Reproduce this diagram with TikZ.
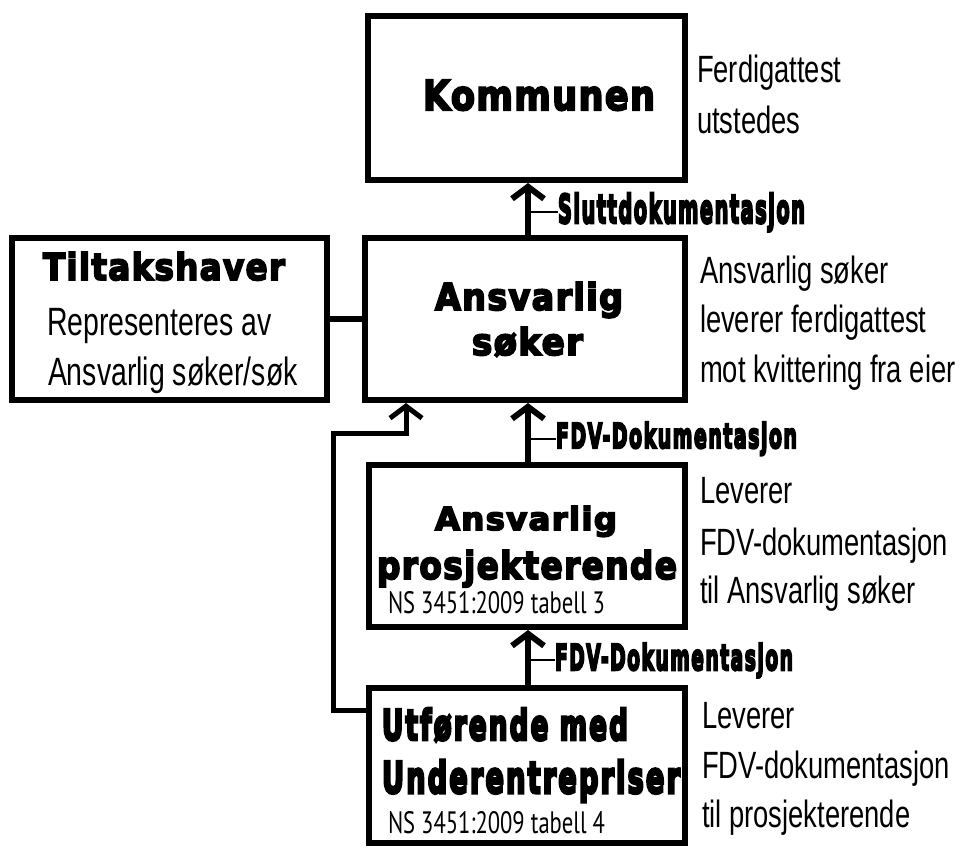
\documentclass[tikz,border=0pt]{standalone}
\usepackage{fontspec}
\usepackage{graphicx}
\usetikzlibrary{arrows.meta}
\setmainfont{Liberation Sans}
\newfontfamily\sidefont{Liberation Sans}[FakeStretch=0.72]
\newfontfamily\heavyfont{DejaVu Sans Bold}[FakeBold=5, LetterSpace=4]
\newfontfamily\impactfont{DejaVu Sans Bold}[FakeBold=7, LetterSpace=8]
\newfontfamily\nsfont{PT Sans}
% text fitted to a given width and height (in pt)
\newcommand\fitheavy[3]{\resizebox{#1pt}{#2pt}{\heavyfont #3}}
\newcommand\fitimpact[3]{\resizebox{#1pt}{#2pt}{\impactfont #3}}
\newcommand\fitns[3]{\resizebox{#1pt}{#2pt}{\nsfont #3}}
\tikzset{
  box/.style={draw, line width=6pt, inner sep=0pt, rectangle},
  txt/.style={inner sep=0pt, outer sep=0pt, anchor=base west},
  side/.style={txt, font=\sidefont\fontsize{38}{46}\selectfont},
  owner/.style={txt, font=\sidefont\fontsize{39.5}{46}\selectfont},
  flow/.style={line width=6pt, -{Straight Barb[length=12pt,width=32pt]}},
  elbow/.style={line width=5pt, -{Straight Barb[length=12pt,width=32pt]}},
  leader/.style={line width=2pt},
  tie/.style={line width=6pt}
}
\begin{document}
\begin{tikzpicture}[x=1pt,y=-1pt]
\useasboundingbox (0,0) rectangle (962,849);

% boxes
\node[box, minimum width=317pt, minimum height=164pt] (kom)  at (526.5,98)  {};
\node[box, minimum width=320pt, minimum height=162pt] (sok)  at (525,319)   {};
\node[box, minimum width=315pt, minimum height=162pt] (tilt) at (169.5,319) {};
\node[box, minimum width=316pt, minimum height=162pt] (pro)  at (527,546)   {};
\node[box, minimum width=316pt, minimum height=155pt] (utf)  at (527,765.5) {};

% box titles
\node[txt] (kom-t)   at (423,110) {\fitheavy{232}{30}{Kommunen}};
\node[txt] (sok-t1)  at (435,310) {\fitheavy{188}{28}{Ansvarlig}};
\node[txt] (sok-t2)  at (472,355) {\fitheavy{111}{28}{søker}};
\node[txt] (tilt-t)  at (43,280)  {\fitheavy{242}{28}{Tiltakshaver}};
\node[owner] (tilt-s1) at (47,335) {Representeres av};
\node[owner] (tilt-s2) at (48,385) {Ansvarlig søker/søk};
\node[txt] (pro-t1)  at (435,530) {\fitheavy{182}{24}{Ansvarlig}};
\node[txt] (pro-t2)  at (377,579) {\fitheavy{300}{29}{prosjekterende}};
\node[txt] (pro-ns)  at (388,613) {\fitns{217}{22}{NS 3451:2009 tabell 3}};
\node[txt] (utf-t1)  at (382,740) {\fitimpact{246}{32}{Utførende med}};
\node[txt] (utf-t2)  at (382,793) {\fitimpact{298}{33}{Underentrepriser}};
\node[txt] (utf-ns)  at (388,833) {\fitns{217}{22}{NS 3451:2009 tabell 4}};

% notes to the right of the boxes
\node[side] (kom-n1) at (697,82)  {Ferdigattest};
\node[side] (kom-n2) at (697,133) {utstedes};
\node[side] (sok-n1) at (700,283) {Ansvarlig søker};
\node[side] (sok-n2) at (700,332) {leverer ferdigattest};
\node[side] (sok-n3) at (700,382) {mot kvittering fra eier};
\node[side] (pro-n1) at (700,503) {Leverer};
\node[side] (pro-n2) at (700,555) {FDV-dokumentasjon};
\node[side] (pro-n3) at (700,603) {til Ansvarlig søker};
\node[side] (utf-n1) at (702,728) {Leverer};
\node[side] (utf-n2) at (702,778) {FDV-dokumentasjon};
\node[side] (utf-n3) at (702,827) {til prosjekterende};

% flow labels
\node[txt] (lab1) at (558,223) {\fitimpact{247}{30}{Sluttdokumentasjon}};
\node[txt] (lab2) at (556,448) {\fitimpact{241}{26}{FDV-Dokumentasjon}};
\node[txt] (lab3) at (555,670) {\fitimpact{238}{27}{FDV-Dokumentasjon}};

% connectors
\coordinate (ax) at (528,0);
\draw[flow] (sok.north -| ax) -- (kom.south -| ax);
\draw[flow] (pro.north -| ax) -- (sok.south -| ax);
\draw[flow] (utf.north -| ax) -- (pro.south -| ax);
\draw[tie] (tilt.east) -- (sok.west);

\coordinate (feed) at (333,710);
\coordinate (riser) at (406,433);
\draw[elbow] (utf.west |- feed) -- (feed) |- (riser) -- (sok.south -| riser);

\draw[leader] (lab1.west -| ax) -- (lab1.west);
\draw[leader] (lab2.west -| ax) -- (lab2.west);
\draw[leader] (lab3.west -| ax) -- (lab3.west);
\end{tikzpicture}
\end{document}
